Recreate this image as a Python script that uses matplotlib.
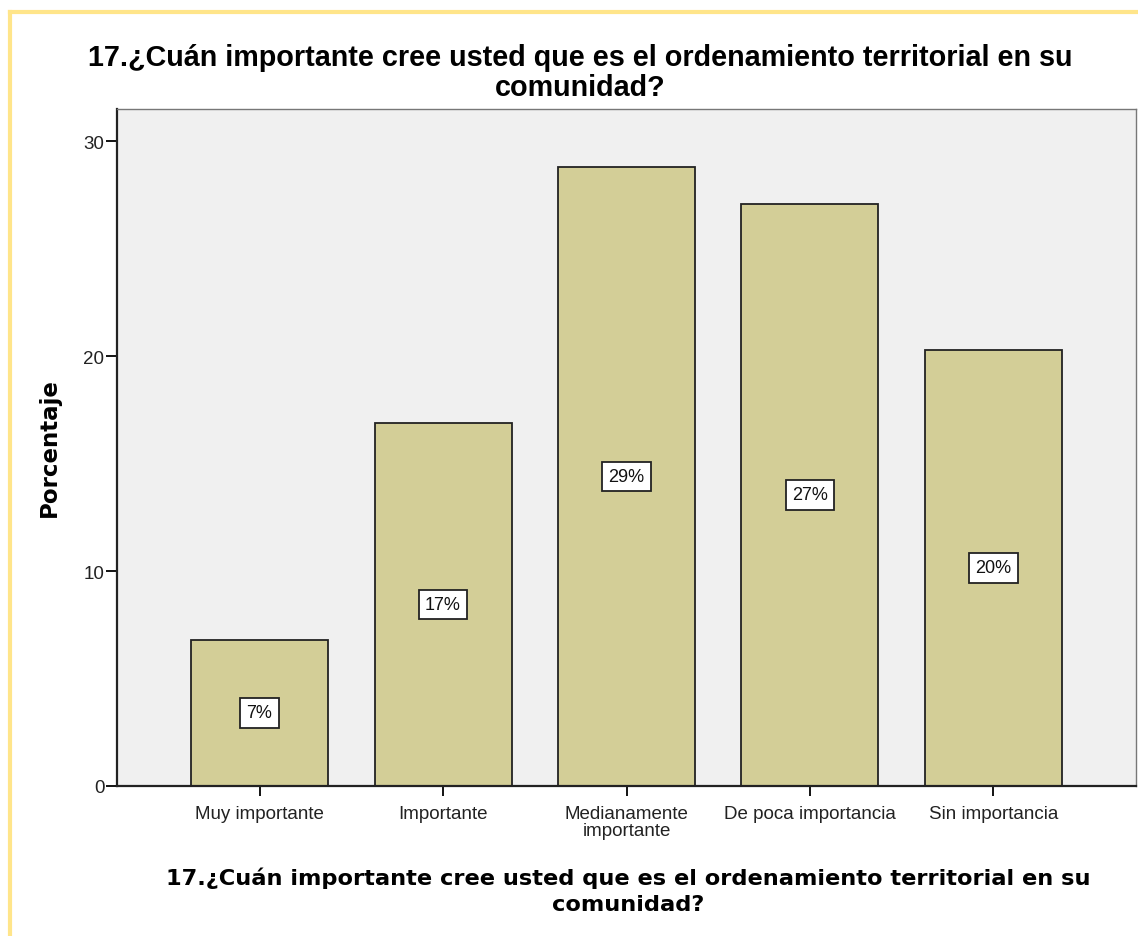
import matplotlib.pyplot as plt
from matplotlib.lines import Line2D

# values
categories = ['Muy importante', 'Importante', 'Medianamente\nimportante',
              'De poca importancia', 'Sin importancia']
percent = [6.8, 16.9, 28.8, 27.1, 20.3]
labels = ['7%', '17%', '29%', '27%', '20%']
yticks = [0, 10, 20, 30]
title = '17.¿Cuán importante cree usted que es el ordenamiento territorial en su\ncomunidad?'

fig = plt.figure(figsize=(11.38, 9.37), dpi=100)
ax = fig.add_axes([117 / 1138, 1 - 787 / 937, (1136 - 117) / 1138, (787 - 110) / 937])

x = range(len(categories))
ax.bar(x, percent, width=0.747, color='#d3ce97', edgecolor='#222222', linewidth=1.3)
for xi, v, lab in zip(x, percent, labels):
    ax.text(xi, v / 2, lab, ha='center', va='center', fontsize=13,
            family='Liberation Sans', color='#111111',
            bbox=dict(boxstyle='square,pad=0.35', fc='white', ec='#222222', lw=1.3))

ax.set_facecolor('#f0f0f0')
ax.set_xlim(-0.777, 4.777)
ax.set_ylim(0, 31.5)
ax.set_yticks(yticks)
ax.set_xticks(list(x))
ax.set_xticklabels(categories, family='Liberation Sans', fontsize=13.5, linespacing=0.95)
ax.tick_params(axis='y', labelsize=13.5, length=8, width=1.3, pad=1, labelcolor='#222222')
ax.tick_params(axis='x', length=7, width=1.3, pad=7, labelcolor='#222222')
for lab in ax.get_yticklabels():
    lab.set_family('Liberation Sans')

for side in ['left', 'bottom']:
    ax.spines[side].set_linewidth(1.6)
    ax.spines[side].set_color('#222222')
for side in ['top', 'right']:
    ax.spines[side].set_linewidth(1.0)
    ax.spines[side].set_color('#777777')

ax.set_ylabel('Porcentaje', family='DejaVu Sans', fontweight='bold', fontsize=16.5)
ax.yaxis.set_label_coords((61 - 117) / 1019, (787 - 448) / 677)

fig.text(580 / 1138, 1 - 73 / 937, title, ha='center', va='center', family='Liberation Sans',
         fontweight='bold', fontsize=20.7, linespacing=1.05)
fig.text(628 / 1138, 1 - 891 / 937, title, ha='center', va='center', family='DejaVu Sans',
         fontweight='bold', fontsize=16.2, linespacing=1.35)

# yellow frame (left and top edges only)
fig.add_artist(Line2D([10 / 1138, 10 / 1138], [0, 1 - 13 / 937], transform=fig.transFigure,
                      color='#ffe58a', lw=3))
fig.add_artist(Line2D([10 / 1138, 1], [1 - 13 / 937, 1 - 13 / 937], transform=fig.transFigure,
                      color='#ffe58a', lw=3))

fig.savefig('out.png', dpi=100)
